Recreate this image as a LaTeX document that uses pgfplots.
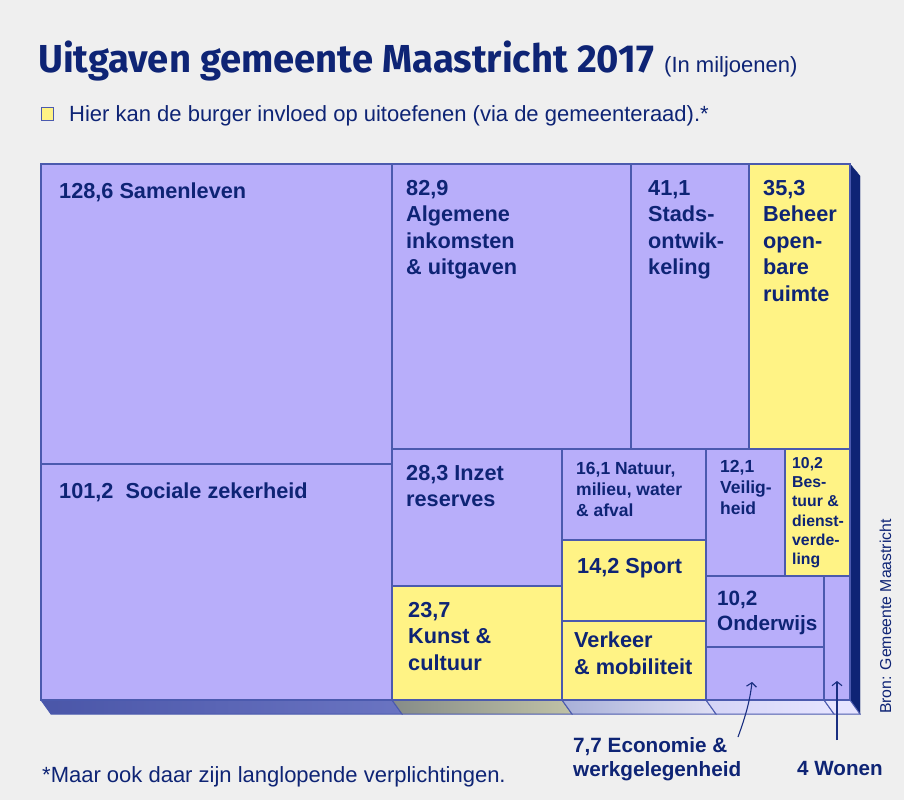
\documentclass[border=0pt]{standalone}
\usepackage{pgfplots}
\pgfplotsset{compat=1.18}
\usepackage{fontspec}
\setmainfont{Liberation Sans}
\newfontfamily\titlefont{Fira Sans}
\usetikzlibrary{arrows.meta}

\definecolor{bg}{HTML}{EFEFEF}
\definecolor{lav}{HTML}{B8AEFA}
\definecolor{yel}{HTML}{FFF385}
\definecolor{navy}{HTML}{0E2475}
\definecolor{edge}{HTML}{4B5AAE}
\definecolor{sideA1}{HTML}{4A56A8}
\definecolor{sideA2}{HTML}{6A74C2}
\definecolor{sideB1}{HTML}{868C88}
\definecolor{sideB2}{HTML}{C0C2A6}
\definecolor{sideC1}{HTML}{A8B0D8}
\definecolor{sideC2}{HTML}{E0E0F4}
\definecolor{sideD1}{HTML}{D4D4F6}
\definecolor{sideD2}{HTML}{E6E4FF}

\tikzset{
    lv/.style={fill=lav, draw=edge, line width=1.1pt},
    ye/.style={fill=yel, draw=edge, line width=1.1pt},
    lbig/.style={anchor=north west, inner sep=0pt, align=left, text=navy,
        font=\bfseries\fontsize{21.7}{26.5}\selectfont},
    lmid/.style={anchor=north west, inner sep=0pt, align=left, text=navy,
        font=\bfseries\fontsize{17.5}{21}\selectfont},
    lsm/.style={anchor=north west, inner sep=0pt, align=left, text=navy,
        font=\bfseries\fontsize{15.8}{19.3}\selectfont},
}

% one treemap tile: x0 y0 x1 y1 (pixels, y downwards)
\newcommand{\tile}[5]{\addplot[#5] coordinates {(#1,#2) (#3,#2) (#3,#4) (#1,#4)} --cycle;}

\begin{document}
\begin{tikzpicture}
\begin{axis}[
    scale only axis, width=904pt, height=800pt,
    xmin=0, xmax=904, ymin=0, ymax=800, y dir=reverse,
    hide axis, clip=false,
]
% background
\addplot[fill=bg, draw=none] coordinates {(0,0) (904,0) (904,800) (0,800)} --cycle;

% 3D sides
\addplot[fill=navy, draw=navy] coordinates {(850,164) (860,176) (860,714) (850,700)} --cycle;
\addplot[left color=sideA1, right color=sideA2, draw=edge, line width=1pt]
    coordinates {(41,700) (392,700) (402,714) (51,714)} --cycle;
\addplot[left color=sideB1, right color=sideB2, draw=edge, line width=1pt]
    coordinates {(392,700) (562,700) (572,714) (402,714)} --cycle;
\addplot[left color=sideC1, right color=sideC2, draw=edge, line width=1pt]
    coordinates {(562,700) (706,700) (716,714) (572,714)} --cycle;
\addplot[left color=sideD1, right color=sideD2, draw=edge, line width=1pt]
    coordinates {(706,700) (824,700) (834,714) (716,714)} --cycle;
\addplot[fill=sideD2, draw=edge, line width=1pt]
    coordinates {(824,700) (850,700) (860,714) (834,714)} --cycle;

% tiles
\tile{41}{164}{392}{464}{lv}   % Samenleven 128,6
\tile{41}{464}{392}{700}{lv}   % Sociale zekerheid 101,2
\tile{392}{164}{631}{449}{lv}  % Algemene inkomsten 82,9
\tile{631}{164}{749}{449}{lv}  % Stadsontwikkeling 41,1
\tile{749}{164}{850}{449}{ye}  % Beheer openbare ruimte 35,3
\tile{392}{449}{562}{586}{lv}  % Inzet reserves 28,3
\tile{392}{586}{562}{700}{ye}  % Kunst & cultuur 23,7
\tile{562}{449}{706}{540}{lv}  % Natuur 16,1
\tile{562}{540}{706}{621}{ye}  % Sport 14,2
\tile{562}{621}{706}{700}{ye}  % Verkeer & mobiliteit
\tile{706}{449}{785}{576}{lv}  % Veiligheid 12,1
\tile{785}{449}{850}{576}{ye}  % Bestuur 10,2
\tile{706}{576}{824}{647}{lv}  % Onderwijs 10,2
\tile{706}{647}{824}{700}{lv}  % Economie 7,7
\tile{824}{576}{850}{700}{lv}  % Wonen 4

% legend square
\tile{41}{107}{53}{120}{fill=yel, draw=edge, line width=1pt}

% titles
\node[anchor=base west, inner sep=0pt, text=navy, font=\titlefont\bfseries\fontsize{39}{40}\selectfont]
    at (axis cs:38,72) {\scalebox{0.98}[1]{Uitgaven gemeente Maastricht 2017}};
\node[anchor=base west, inner sep=0pt, text=navy, font=\fontsize{22}{24}\selectfont]
    at (axis cs:664,72) {(In miljoenen)};
\node[anchor=base west, inner sep=0pt, text=navy, font=\fontsize{22}{24}\selectfont]
    at (axis cs:69,121) {Hier kan de burger invloed op uitoefenen (via de gemeenteraad).*};
\node[anchor=base west, inner sep=0pt, text=navy, font=\fontsize{22}{24}\selectfont]
    at (axis cs:42,782) {*Maar ook daar zijn langlopende verplichtingen.};
\node[anchor=base west, inner sep=0pt, rotate=90, text=navy, font=\fontsize{15.8}{18}\selectfont]
    at (axis cs:891,714) {Bron: Gemeente Maastricht};

% tile labels
\node[lbig] at (axis cs:59,183) {128,6 Samenleven};
\node[lbig] at (axis cs:59,483) {101,2\ \ Sociale zekerheid};
\node[lbig] at (axis cs:406,180) {82,9\\Algemene\\inkomsten\\\& uitgaven};
\node[lbig] at (axis cs:648,180) {41,1\\Stads-\\ontwik-\\keling};
\node[lbig] at (axis cs:763,180) {35,3\\Beheer\\open-\\bare\\ruimte};
\node[lbig] at (axis cs:406,465) {28,3 Inzet\\reserves};
\node[lmid] at (axis cs:576,462) {16,1 Natuur,\\milieu, water\\\& afval};
\node[lbig] at (axis cs:577,558) {14,2 Sport};
\node[lbig] at (axis cs:574,632) {Verkeer\\\& mobiliteit};
\node[lbig] at (axis cs:408,602) {23,7\\Kunst \&\\cultuur};
\node[lmid] at (axis cs:720,460) {12,1\\Veilig-\\heid};
\node[lsm] at (axis cs:792,457) {10,2\\Bes-\\tuur \&\\dienst-\\verde-\\ling};
\node[lbig, font=\bfseries\fontsize{20.7}{25}\selectfont] at (axis cs:717,591) {10,2\\Onderwijs};
\node[lbig, font=\bfseries\fontsize{20.7}{24}\selectfont] at (axis cs:573,737) {7,7 Economie \&\\werkgelegenheid};
\node[lbig, font=\bfseries\fontsize{20.6}{24}\selectfont] at (axis cs:797,761) {4 Wonen};

% pointers
\draw[navy!80!edge, line width=1.1pt, -{Straight Barb[length=4pt, width=10pt]}]
    (axis cs:738,737) .. controls (axis cs:746,715) and (axis cs:750,700) .. (axis cs:752,682);
\draw[navy!80!edge, line width=1.1pt, -{Straight Barb[length=4pt, width=10pt]}]
    (axis cs:837,740) -- (axis cs:837,681);
\end{axis}
\end{tikzpicture}
\end{document}
